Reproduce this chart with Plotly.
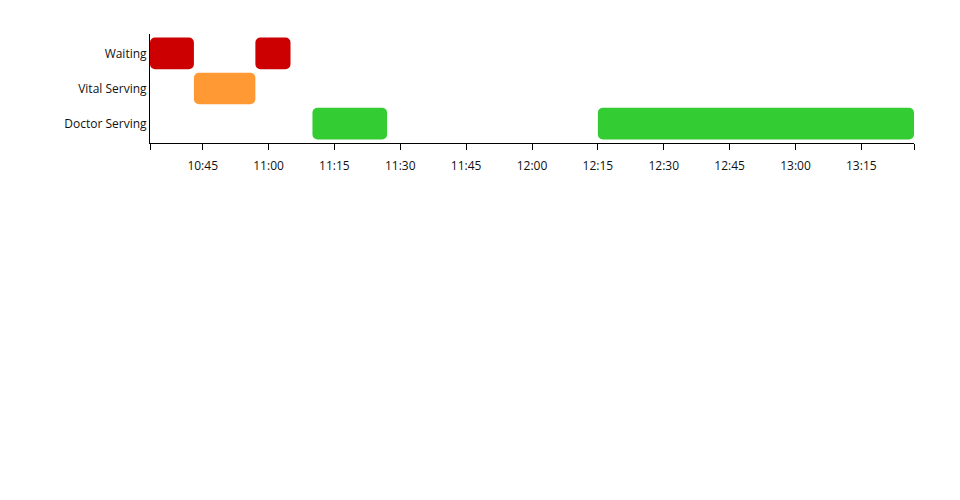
import plotly.graph_objects as go
from datetime import datetime

DAY = "2024-01-01"

# Timeline segments
states = ["Waiting", "Vital Serving", "Waiting", "Doctor Serving", "Doctor Serving"]
starts = ["10:33", "10:43", "10:57", "11:10", "12:15"]
ends = ["10:43", "10:57", "11:05", "11:27", "13:27"]

category_order = ["Doctor Serving", "Vital Serving", "Waiting"]  # bottom to top
state_colors = {"Waiting": "#cc0000", "Vital Serving": "#ff9933", "Doctor Serving": "#33cc33"}

axis_start = "10:33"
axis_end = "13:27"
tick_times = ["10:33", "10:45", "11:00", "11:15", "11:30", "11:45", "12:00",
              "12:15", "12:30", "12:45", "13:00", "13:15", "13:27"]
tick_labels = ["", "10:45", "11:00", "11:15", "11:30", "11:45", "12:00",
               "12:15", "12:30", "12:45", "13:00", "13:15", ""]


def ts(hm):
    return datetime.strptime(f"{DAY} {hm}", "%Y-%m-%d %H:%M")


fig = go.Figure()
for state in ["Waiting", "Vital Serving", "Doctor Serving"]:
    idx = [i for i, s in enumerate(states) if s == state]
    base = [ts(starts[i]) for i in idx]
    dur = [(ts(ends[i]) - ts(starts[i])).total_seconds() * 1000 for i in idx]
    fig.add_trace(go.Bar(
        y=[state] * len(idx),
        x=dur,
        base=base,
        orientation="h",
        width=0.9,
        marker=dict(color=state_colors[state], cornerradius=5, line=dict(width=0)),
        showlegend=False,
        hoverinfo="skip",
    ))

fig.update_layout(
    width=960, height=500,
    margin=dict(l=142, r=54, t=26, b=365),
    paper_bgcolor="white", plot_bgcolor="white",
    barmode="overlay",
    font=dict(family="Open Sans", size=12, color="#111"),
    xaxis=dict(
        type="date",
        range=[ts(axis_start), ts(axis_end)],
        tickmode="array",
        tickvals=[ts(t) for t in tick_times],
        ticktext=tick_labels,
        ticks="outside", ticklen=6, tickwidth=1, tickcolor="#000",
        showline=True, linecolor="#000", linewidth=1,
        showgrid=False, zeroline=False,
        ticklabelstandoff=6,
    ),
    yaxis=dict(
        type="category",
        categoryorder="array",
        categoryarray=category_order,
        range=[-0.55, 2.55],
        showline=True, linecolor="#000", linewidth=1,
        showgrid=False, zeroline=False,
        ticks="",
    ),
)

fig.write_html("out.html")
